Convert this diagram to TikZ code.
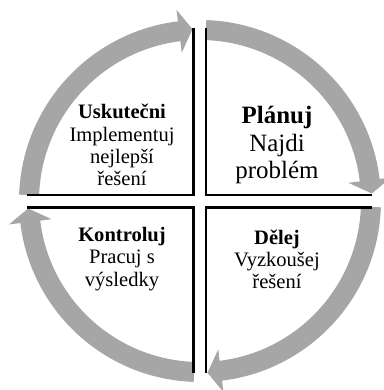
\documentclass[tikz,border=0pt]{standalone}
\usepackage{fontspec}
\setmainfont{Liberation Serif}
\definecolor{ringgray}{RGB}{166,166,166}
\tikzset{
  quadline/.style={line width=1.7pt, black, line cap=butt, line join=miter},
  labelbox/.style={align=center, inner sep=0pt, font=\fontsize{15.4}{16.6}\selectfont},
  biglabel/.style={align=center, inner sep=0pt, font=\fontsize{18.7}{20.3}\selectfont}
}
% one curved arrow of the cycle: start angle, head-base angle, tip angle
\newcommand\cyclearrow[3]{%
  \fill[ringgray] (#1:181) arc[start angle=#1, end angle=#2, radius=181]
    -- (#2:192.5) -- (#3:172) -- (#2:149.5) -- (#2:161)
    arc[start angle=#2, end angle=#1, radius=161] -- cycle;}
\begin{document}
\begin{tikzpicture}[x=0.75pt,y=0.75pt]
\useasboundingbox (0,0) rectangle (384,390);
\begin{scope}[shift={(200,189)}]
  % circular arrows running clockwise
  \cyclearrow{178}{97}{92.5}
  \cyclearrow{88}{7}{2.5}
  \cyclearrow{-2}{-83}{-87.5}
  \cyclearrow{-92}{-173}{-177.5}
  % inner edges of the four quadrants
  \draw[quadline] (-6.5,173) -- (-6.5,6) -- (-173,6);
  \draw[quadline] (6,173) -- (6,6) -- (172,6);
  \draw[quadline] (-173,-6.5) -- (-6.5,-6.5) -- (-6.5,-172);
  \draw[quadline] (172,-6.5) -- (6,-6.5) -- (6,-172);
  % quadrant texts
  \node[labelbox] (act) at (-78,56) {\textbf{Uskutečni}\\Implementuj\\nejlepší\\řešení};
  \node[biglabel] (plan) at (77,56) {\textbf{Plánuj}\\Najdi\\problém};
  \node[labelbox] (check) at (-78,-58) {\textbf{Kontroluj}\\Pracuj s\\výsledky};
  \node[labelbox] (do) at (77,-58) {\textbf{Dělej}\\Vyzkoušej\\řešení};
\end{scope}
\end{tikzpicture}
\end{document}
